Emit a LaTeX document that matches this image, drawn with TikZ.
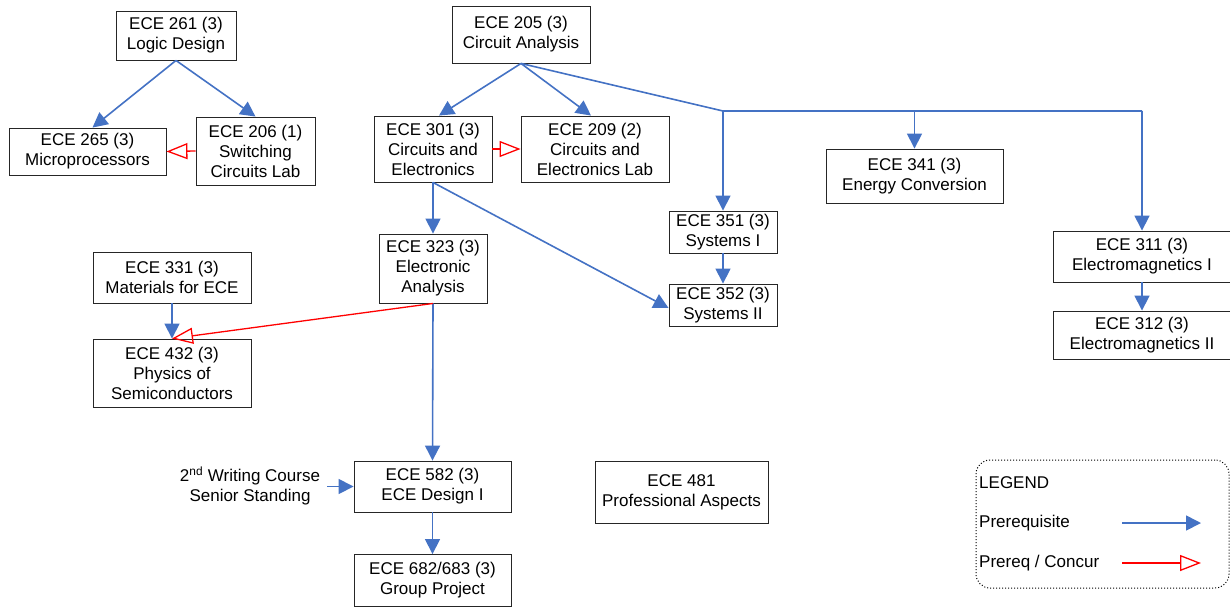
\documentclass[tikz,border=0pt]{standalone}
\usepackage{fontspec}
\setmainfont{Liberation Sans}
\usetikzlibrary{arrows.meta}
\definecolor{preblue}{HTML}{4472C4}
\tikzset{
  course/.style={draw=black!85, line width=0.9pt, align=center, inner sep=2pt,
    font=\fontsize{17}{20}\selectfont},
  plain/.style={align=center, inner sep=0pt, font=\fontsize{17}{20}\selectfont},
  pre/.style={draw=preblue, line width=1.6pt, -{Triangle[length=15pt,width=15pt]}},
  preline/.style={draw=preblue, line width=1.6pt},
  conc/.style={draw=red, line width=1.3pt, -{Triangle[open,length=21pt,width=16pt]}},
}
\begin{document}
\begin{tikzpicture}[x=1pt,y=-1pt]
\useasboundingbox (0,0) rectangle (1230,606);
% course boxes
\node[course, minimum width=120pt, minimum height=49pt] (n261) at (176,35.5) {ECE 261 (3)\\Logic Design};
\node[course, minimum width=138pt, minimum height=57pt] (n205) at (521,34.5) {ECE 205 (3)\\Circuit Analysis};
\node[course, minimum width=157pt, minimum height=47pt] (n265) at (87.5,151.5) {ECE 265 (3)\\Microprocessors};
\node[course, minimum width=119pt, minimum height=68pt] (n206) at (255.5,151) {ECE 206 (1)\\Switching\\Circuits Lab};
\node[course, minimum width=118pt, minimum height=66pt] (n301) at (433,149) {ECE 301 (3)\\Circuits and\\Electronics};
\node[course, minimum width=148pt, minimum height=66pt] (n209) at (595,149) {ECE 209 (2)\\Circuits and\\Electronics Lab};
\node[course, minimum width=177pt, minimum height=54pt] (n341) at (914.5,176) {ECE 341 (3)\\Energy Conversion};
\node[course, minimum width=108pt, minimum height=42pt] (n351) at (723,232) {ECE 351 (3)\\Systems I};
\node[course, minimum width=108pt, minimum height=42pt] (n352) at (723,305) {ECE 352 (3)\\Systems II};
\node[course, minimum width=178pt, minimum height=51pt] (n311) at (1142,256.5) {ECE 311 (3)\\Electromagnetics I};
\node[course, minimum width=178pt, minimum height=48pt] (n312) at (1142,335) {ECE 312 (3)\\Electromagnetics II};
\node[course, minimum width=108pt, minimum height=69pt] (n323) at (433,268.5) {ECE 323 (3)\\Electronic\\Analysis};
\node[course, minimum width=158pt, minimum height=51pt] (n331) at (172,277.5) {ECE 331 (3)\\Materials for ECE};
\node[course, minimum width=158pt, minimum height=68pt] (n432) at (172,373) {ECE 432 (3)\\Physics of\\Semiconductors};
\node[course, minimum width=157pt, minimum height=51pt] (n582) at (432.5,486.5) {ECE 582 (3)\\ECE Design I};
\node[course, minimum width=157pt, minimum height=52pt] (n682) at (432.5,580.5) {ECE 682/683 (3)\\Group Project};
\node[course, minimum width=173pt, minimum height=62pt] (n481) at (681.5,492) {ECE 481\\Professional Aspects};
\node[plain] (wr) at (250,486) {2\textsuperscript{nd} Writing Course\\Senior Standing};
% prerequisite arrows
\draw[pre] (n261.south) -- ([xshift=5pt]n265.north);
\draw[pre] (n261.south) -- (n206.north);
\draw[pre] (n205.south) -- ([xshift=6pt]n301.north);
\draw[pre] (n205.south) -- ([xshift=-4pt]n209.north);
\coordinate (j) at (723,111);
\coordinate (jr) at (1142,111);
\draw[preline] (n205.south) -- (j) -- (jr);
\draw[pre] (j) -- (n351.north);
\draw[pre] (n341.north |- j) -- (n341.north);
\draw[pre] (jr) -- (n311.north);
\draw[pre] (n301.south) -- (n323.north);
\draw[pre] (n301.south) -- ([yshift=-3pt]n352.west);
\draw[pre] (n351.south) -- (n352.north);
\draw[pre] (n311.south) -- (n312.north);
\draw[pre] (n331.south) -- (n432.north);
\draw[pre] (n323.south) -- (n582.north);
\draw[pre] (wr.east |- n582.west) ++(7pt,0) coordinate (wre) (wre) -- (n582.west);
\draw[pre] (n582.south) -- (n682.north);
% prereq / concurrent arrows
\draw[conc] (n206.west) -- (n265.east);
\draw[conc] (n301.east) -- (n209.east -| n209.west);
\draw[conc] (n323.south) -- (n432.north);
% legend
\node[draw, dotted, line width=1pt, rounded corners=14pt, minimum width=253pt, minimum height=128pt] (leg) at (1102.5,524) {};
\node[plain, anchor=west] (lt) at (979,483) {LEGEND};
\node[plain, anchor=west] (l1) at (979,523) {Prerequisite};
\node[plain, anchor=west] (l2) at (979,563) {Prereq / Concur};
\coordinate (a1s) at (1122,523);
\coordinate (a1e) at (1201,523);
\coordinate (a2s) at (1122,563);
\coordinate (a2e) at (1201,563);
\draw[pre] (a1s) -- (a1e);
\draw[conc] (a2s) -- (a2e);
\end{tikzpicture}
\end{document}
